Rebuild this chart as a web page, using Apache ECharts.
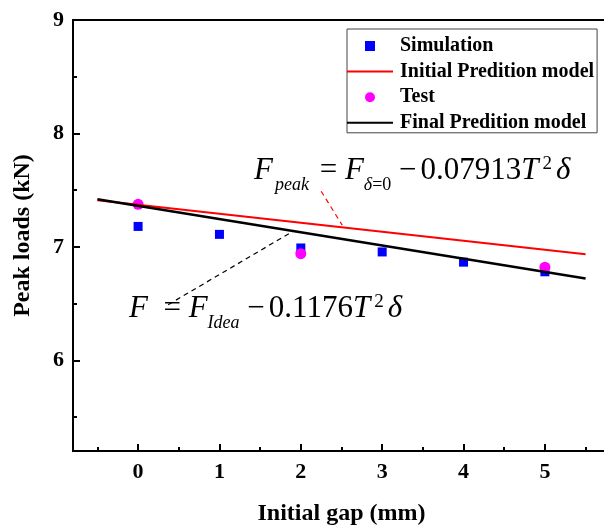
<!DOCTYPE html>
<html>
<head>
<meta charset="utf-8">
<script src="https://cdn.jsdelivr.net/npm/echarts@6/dist/echarts.min.js"></script>
<style>html,body{margin:0;padding:0;background:#fff}#c{width:604px;height:527px}</style>
</head>
<body>
<div id="c"></div>
<script>
// ---- data ----
const gapX = [0, 1, 2, 3, 4, 5];
const simulation = [7.18, 7.11, 6.99, 6.955, 6.865, 6.78];
const testX = [0, 2, 5];
const testVals = [7.375, 6.94, 6.82];
const modelX = [-0.5, 5.5];
const initialModel = [7.41, 6.935];
const finalModel = [7.42, 6.72];
const leaderRed = [[2.25, 7.49], [2.51, 7.19]];
const leaderBlack = [[0.37, 6.49], [1.91, 7.14]];
const xTicks = [0, 1, 2, 3, 4, 5];
const xMinor = [-0.5, 0.5, 1.5, 2.5, 3.5, 4.5, 5.5];
const yTicks = [6, 7, 8, 9];
const yMinor = [5.5, 6.5, 7.5, 8.5];

const SERIF = '"Liberation Serif", "Times New Roman", serif';
const chart = echarts.init(document.getElementById('c'), null, {renderer: 'canvas'});

const richDef = {
  i: {fontFamily: SERIF, fontStyle: 'italic', fontSize: 31, lineHeight: 36, verticalAlign: 'top', color: '#000'},
  n: {fontFamily: SERIF, fontSize: 31, lineHeight: 36, verticalAlign: 'top', color: '#000'},
  d: {fontFamily: SERIF, fontSize: 31, lineHeight: 36, verticalAlign: 'top', padding: [0, 0, 0, 4], color: '#000'},
  s: {fontFamily: SERIF, fontStyle: 'italic', fontSize: 18, lineHeight: 18, verticalAlign: 'top', padding: [21, 3, 0, 2], color: '#000'},
  s2: {fontFamily: SERIF, fontStyle: 'italic', fontSize: 18, lineHeight: 18, verticalAlign: 'top', padding: [21, 0, 0, 0], color: '#000'},
  sn: {fontFamily: SERIF, fontSize: 18, lineHeight: 18, verticalAlign: 'top', padding: [21, 0, 0, 0], color: '#000'},
  p: {fontFamily: SERIF, fontSize: 19, lineHeight: 19, verticalAlign: 'top', padding: [0, 4, 0, 4], color: '#000'}
};

const xBase = {type: 'value', min: -0.8, max: 5.8, gridIndex: 0, splitLine: {show: false}};
const yBase = {type: 'value', min: 5.2, max: 9, gridIndex: 0, splitLine: {show: false}};

chart.setOption({
  animation: false,
  backgroundColor: '#fff',
  grid: {left: 73, top: 20, width: 537, bottom: 76, outerBoundsMode: 'none', containLabel: false,
         show: true, borderColor: '#000', borderWidth: 2},
  legend: {
    orient: 'vertical', left: 347, top: 29,
    data: [
      {name: 'Simulation', icon: 'path://M0,0L10,0L10,10L0,10Z'},
      {name: 'Initial Predition model', icon: 'path://M0,0H46V2H0Z'},
      {name: 'Test', icon: 'circle'},
      {name: 'Final Predition model', icon: 'path://M0,0H46V2H0Z'}
    ],
    itemWidth: 46, itemHeight: 10, itemGap: 5.6,
    padding: [7, 3, 0, 0],
    borderColor: '#444', borderWidth: 1,
    textStyle: {fontFamily: SERIF, fontWeight: 'bold', fontSize: 20, color: '#000', lineHeight: 20, padding: [0, 0, 0, 2]}
  },
  xAxis: [
    Object.assign({}, xBase, {
      position: 'bottom',
      name: 'Initial gap (mm)', nameLocation: 'middle', nameGap: 51,
      nameTextStyle: {fontFamily: SERIF, fontWeight: 'bold', fontSize: 24, color: '#000'},
      axisLine: {onZero: false, lineStyle: {color: '#000', width: 2}},
      axisTick: {inside: true, length: 7, lineStyle: {color: '#000', width: 2}, customValues: xTicks},
      axisLabel: {customValues: xTicks, margin: 10, fontFamily: SERIF, fontWeight: 'bold', fontSize: 22, color: '#000'}
    }),
    Object.assign({}, xBase, {
      position: 'bottom',
      axisLine: {show: false, onZero: false},
      axisTick: {inside: true, length: 4, lineStyle: {color: '#000', width: 2}, customValues: xMinor},
      axisLabel: {show: false}
    })
  ],
  yAxis: [
    Object.assign({}, yBase, {
      position: 'left',
      name: 'Peak loads (kN)', nameLocation: 'middle', nameGap: 38,
      nameTextStyle: {fontFamily: SERIF, fontWeight: 'bold', fontSize: 24, color: '#000'},
      axisLine: {show: true, onZero: false, lineStyle: {color: '#000', width: 2}},
      axisTick: {show: true, inside: true, length: 7, lineStyle: {color: '#000', width: 2}, customValues: yTicks},
      axisLabel: {customValues: yTicks, margin: 9, fontFamily: SERIF, fontWeight: 'bold', fontSize: 22, color: '#000'}
    }),
    Object.assign({}, yBase, {
      position: 'left',
      axisLine: {show: false, onZero: false},
      axisTick: {show: true, inside: true, length: 4, lineStyle: {color: '#000', width: 2}, customValues: yMinor},
      axisLabel: {show: false}
    })
  ],
  series: [
    {
      name: 'Simulation', type: 'scatter', symbol: 'rect', symbolSize: 9,
      itemStyle: {color: '#0000ff', opacity: 1}, z: 2,
      data: gapX.map((x, i) => [x, simulation[i]])
    },
    {
      name: 'Test', type: 'scatter', symbol: 'circle', symbolSize: 11,
      itemStyle: {color: '#ff00ff', opacity: 1}, z: 3,
      data: testX.map((x, i) => [x, testVals[i]])
    },
    {
      name: 'Initial Predition model', type: 'line', symbol: 'none', z: 4,
      lineStyle: {color: '#ff0000', width: 2}, itemStyle: {color: '#ff0000'},
      data: modelX.map((x, i) => [x, initialModel[i]]),
      markLine: {
        silent: true, symbol: 'none', label: {show: false},
        lineStyle: {color: '#ff0000', type: [5, 4], width: 1.2},
        data: [[{coord: leaderRed[0]}, {coord: leaderRed[1]}]]
      }
    },
    {
      name: 'Final Predition model', type: 'line', symbol: 'none', z: 5,
      lineStyle: {color: '#000', width: 2.5}, itemStyle: {color: '#000'},
      data: modelX.map((x, i) => [x, finalModel[i]]),
      markLine: {
        silent: true, symbol: 'none', label: {show: false},
        lineStyle: {color: '#000', type: [5, 4], width: 1.2},
        data: [[{coord: leaderBlack[0]}, {coord: leaderBlack[1]}]]
      }
    }
  ],
  graphic: [
    {
      type: 'text', left: 254, top: 155, z: 10,
      style: {
        text: '{i|F}{s|peak}{n| = }{i|F}{s2|δ}{sn|=0}{n| −}{d|0.07913}{i|T}{p|2}{i|δ}',
        rich: richDef
      }
    },
    {
      type: 'text', left: 129, top: 293, z: 10,
      style: {
        text: '{i|F}{n|  = }{i|F}{s2|Idea}{n| −}{d|0.1176}{i|T}{p|2}{i|δ}',
        rich: richDef
      }
    }
  ]
});
</script>
</body>
</html>
